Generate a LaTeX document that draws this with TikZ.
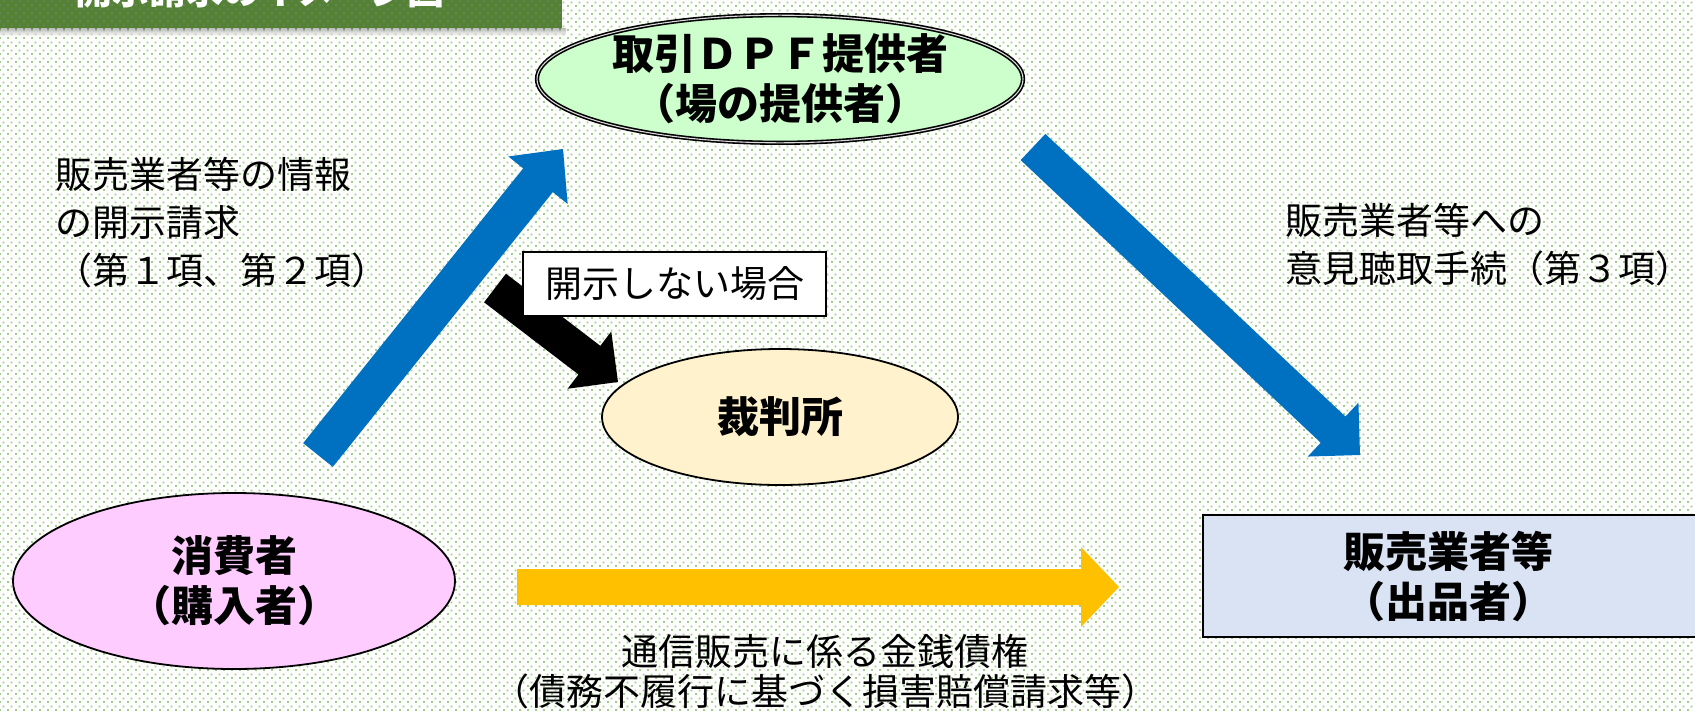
\documentclass[tikz,border=0pt]{standalone}
\usepackage{fontspec}
\setmainfont{Noto Sans CJK JP}
\usetikzlibrary{calc,shapes.geometric,patterns}

\pgfdeclarepatternformonly{bgdots}{\pgfpointorigin}{\pgfpoint{8pt}{8pt}}{\pgfpoint{8pt}{8pt}}{%
  \pgfpathrectangle{\pgfpoint{0pt}{0pt}}{\pgfpoint{2pt}{2pt}}%
  \pgfpathrectangle{\pgfpoint{4pt}{4pt}}{\pgfpoint{2pt}{2pt}}%
  \pgfusepath{fill}}

\definecolor{dotgreen}{RGB}{160,206,134}
\definecolor{bannergreen}{RGB}{84,130,53}
\definecolor{dpfgreen}{RGB}{204,255,204}
\definecolor{consumerpink}{RGB}{255,204,255}
\definecolor{sellerblue}{RGB}{218,227,243}
\definecolor{courtyellow}{RGB}{255,242,204}
\definecolor{arrowblue}{RGB}{0,112,192}
\definecolor{arrowyellow}{RGB}{255,192,0}

\newcommand\blockarrow[6]{%
  \coordinate (hb) at ($(#2)!#6!(#1)$);
  \fill[#3] ($(#1)!#4!90:(#2)$) -- ($(hb)!#4!90:(#2)$) -- ($(hb)!#5!90:(#2)$) -- (#2)
    -- ($(hb)!#5!-90:(#2)$) -- ($(hb)!#4!-90:(#2)$) -- ($(#1)!#4!-90:(#2)$) -- cycle;}

\tikzset{
  regtext/.style={font=\fontsize{37}{48}\selectfont, inner sep=0pt},
  boldtext/.style={font=\fontsize{42}{50}\selectfont\bfseries, inner sep=0pt, align=center},
  shapeline/.style={draw=black, line width=1.8pt},
}

\begin{document}
\begin{tikzpicture}[x=1pt,y=-1pt]
\useasboundingbox (0,0) rectangle (1695,710);
\clip (0,0) rectangle (1695,710);
\fill[white] (0,0) rectangle (1695,710);
\fill[pattern=bgdots, pattern color=dotgreen] (0,0) rectangle (1695,710);

% banner
\shade[top color=black!60, bottom color=white, opacity=0.45] (0,28) rectangle (566,36);
\fill[bannergreen] (0,0) rectangle (562,28);
\fill[pattern=bgdots, pattern color=gray!55!bannergreen] (0,0) rectangle (562,28);
\node[anchor=base west, font=\fontsize{37}{40}\selectfont\bfseries, text=white, inner sep=0pt] (title) at (75,4) {開示請求のイメージ図};

% arrows
\coordinate (b1tail) at (318,455); \coordinate (b1tip) at (563,149);
\blockarrow{b1tail}{b1tip}{arrowblue}{19pt}{38pt}{40pt}
\coordinate (b2tail) at (1033,147); \coordinate (b2tip) at (1360,455);
\blockarrow{b2tail}{b2tip}{arrowblue}{18pt}{37pt}{37pt}
\coordinate (bktail) at (495,288); \coordinate (bktip) at (618,382);
\blockarrow{bktail}{bktip}{black}{18pt}{36pt}{36pt}
\coordinate (ytail) at (517,587); \coordinate (ytip) at (1119,587);
\blockarrow{ytail}{ytip}{arrowyellow}{18pt}{40pt}{38pt}

% nodes
\node[ellipse, draw=black, line width=1.6pt, double=white!85!black, double distance=1.1pt, fill=dpfgreen,
  minimum width=486pt, minimum height=112pt, inner sep=0pt, boldtext] (dpf) at (780,79)
  {取引ＤＰＦ提供者\\（場の提供者）};

\node[ellipse, shapeline, fill=consumerpink, minimum width=442pt, minimum height=176pt, inner sep=0pt, boldtext] (cons) at (234,581) {消費者\\（購入者）};

\node[rectangle, shapeline, fill=sellerblue, minimum width=494pt, minimum height=122pt, inner sep=0pt] (sell) at (1450,576) {};
\node[boldtext] (sellT) at (1448,576) {販売業者等\\（出品者）};

\node[ellipse, shapeline, fill=courtyellow, minimum width=356pt, minimum height=136pt, inner sep=0pt, boldtext] (court) at (780,417) {裁判所};

\node[rectangle, draw=black, line width=1.5pt, fill=white, minimum width=303pt, minimum height=64pt, regtext] (nodisc) at (674.5,284) {開示しない場合};

% labels
\node[regtext, anchor=west, align=left] (lreq) at (55,223) {販売業者等の情報\\の開示請求\\（第１項、第２項）};
\node[regtext, anchor=west, align=left] (rproc) at (1285,245) {販売業者等への\\意見聴取手続（第３項）};
\node[regtext, align=center, font=\fontsize{37}{40}\selectfont] (money) at (825,672) {通信販売に係る金銭債権\\（債務不履行に基づく損害賠償請求等）};
\end{tikzpicture}
\end{document}
